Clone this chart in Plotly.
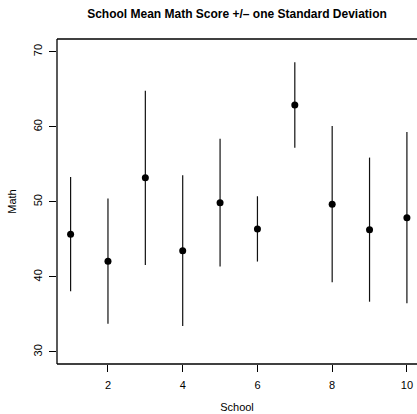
import plotly.graph_objects as go

schools = [1, 2, 3, 4, 5, 6, 7, 8, 9, 10]
means = [45.7, 42.1, 53.2, 43.5, 49.9, 46.4, 62.9, 49.7, 46.3, 47.9]
sds = [7.6, 8.35, 11.6, 10.05, 8.5, 4.35, 5.7, 10.4, 9.6, 11.4]
x_ticks = [2, 4, 6, 8, 10]
y_ticks = [30, 40, 50, 60, 70]

FONT = "Liberation Sans, Arial, Helvetica, sans-serif"

fig = go.Figure()
fig.add_trace(go.Scatter(
    x=schools, y=means, mode="markers",
    marker=dict(color="black", size=7, symbol="circle"),
    error_y=dict(type="data", array=sds, symmetric=True, width=0,
                 thickness=1.2, color="#111"),
    showlegend=False, hoverinfo="skip",
))

# plot box (left, top, bottom; right edge lies just outside the window)
for x0, y0, x1, y1 in [(0, 0, 0, 1), (0, 1, 1.01, 1), (0, 0, 1.01, 0)]:
    fig.add_shape(type="line", xref="paper", yref="paper",
                  x0=x0, y0=y0, x1=x1, y1=y1,
                  line=dict(color="black", width=1.3), layer="above")

fig.update_layout(
    width=417, height=414,
    margin=dict(l=57, r=0, t=39, b=50, pad=0),
    paper_bgcolor="white", plot_bgcolor="white",
    font=dict(family=FONT, size=11, color="black"),
    title=dict(text="<b>School Mean Math Score +/– one Standard Deviation</b>",
               x=0.5, xref="paper", xanchor="center",
               y=1 - 14 / 414, yref="container", yanchor="middle",
               font=dict(size=12, family=FONT, color="black")),
    xaxis=dict(range=[0.636, 10.27], tickvals=x_ticks, ticktext=[str(v) for v in x_ticks],
               showgrid=False, zeroline=False, showline=False,
               ticks="outside", ticklen=7,
               tickcolor="black", tickwidth=1, ticklabelstandoff=4,
               title=dict(text="School", standoff=13, font=dict(size=11, color="black"))),
    yaxis=dict(range=[28.4, 71.7], tickvals=y_ticks, ticktext=[str(v) for v in y_ticks],
               showgrid=False, zeroline=False, showline=False,
               ticks="outside", ticklen=7,
               tickcolor="black", tickwidth=1, tickangle=-90, ticklabelstandoff=3,
               title=dict(text="Math", standoff=12, font=dict(size=11, color="black"))),
)

fig.write_html("out.html")
